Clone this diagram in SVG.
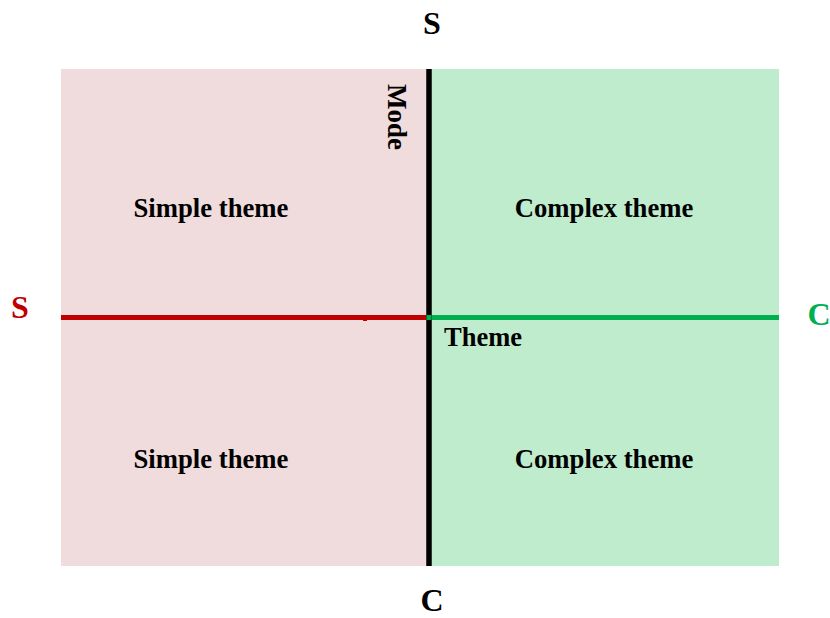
<svg xmlns="http://www.w3.org/2000/svg" width="830" height="618" viewBox="0 0 830 618">
<style>
.t{font-family:"Liberation Serif","Times New Roman",serif;font-weight:bold;}
.lbl{font-size:26.7px;text-anchor:middle;fill:#000;}
.ax{font-size:32px;text-anchor:middle;}
</style>
<rect width="830" height="618" fill="#fff"/>
<g id="quadrant-left"><rect x="61" y="69" width="367" height="497" fill="#f0dcdc"/></g>
<g id="quadrant-right"><rect x="428" y="69" width="351" height="497" fill="#c0ecce"/></g>
<g id="connectors">
<line x1="61" y1="317.5" x2="428" y2="317.5" stroke="#c00000" stroke-width="5"/>
<rect x="363" y="318" width="4" height="3" fill="#c00000"/>
<line x1="426" y1="317.5" x2="779" y2="317.5" stroke="#00b050" stroke-width="5"/>
<line x1="429" y1="69" x2="429" y2="566" stroke="#000" stroke-width="5.5"/>
<rect x="426.5" y="315" width="5" height="5" fill="#00b050"/>
</g>
<g id="n-tl"><text class="t lbl" x="211" y="217">Simple theme</text></g>
<g id="n-tr"><text class="t lbl" x="604" y="217">Complex theme</text></g>
<g id="n-bl"><text class="t lbl" x="211" y="468">Simple theme</text></g>
<g id="n-br"><text class="t lbl" x="604" y="468">Complex theme</text></g>
<g id="axis-mode"><text class="t" font-size="27" transform="translate(388,84) rotate(90)">Mode</text></g>
<g id="axis-theme"><text class="t" font-size="26.5" x="444" y="346">Theme</text></g>
<g id="label-top"><text class="t ax" x="432" y="34" fill="#000">S</text></g>
<g id="label-bottom"><text class="t ax" x="432" y="611" fill="#000">C</text></g>
<g id="label-left"><text class="t ax" x="20" y="318" fill="#c00000">S</text></g>
<g id="label-right"><text class="t ax" x="819" y="325" fill="#00b050">C</text></g>
</svg>
